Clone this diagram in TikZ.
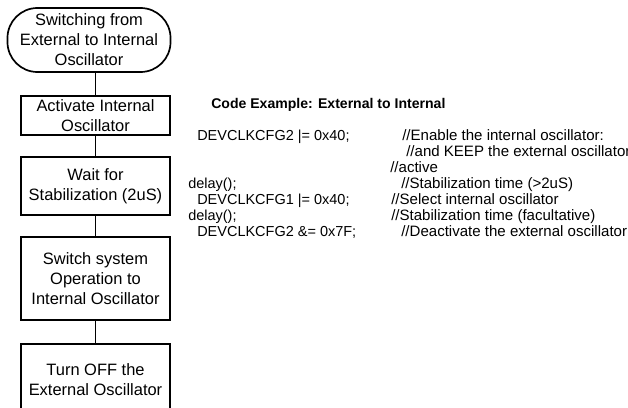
\documentclass[tikz,border=0pt]{standalone}
\usepackage{fontspec}
\setmainfont{Liberation Sans}
\usetikzlibrary{positioning}
\tikzset{
    stepbox/.style={
        draw,
        line width=1.2pt,
        minimum width=3.725cm,
        align=center,
        inner sep=0pt,
        font=\fontsize{11.7}{14.2}\selectfont
    },
    startbox/.style={
        stepbox,
        minimum width=4.075cm,
        rounded corners=0.75cm
    },
    codeline/.style={
        anchor=base west,
        inner sep=0pt,
        font=\fontsize{10.3}{12}\selectfont
    },
    remline/.style={
        codeline,
        font=\fontsize{10.7}{12}\selectfont
    }
}

\begin{document}
\begin{tikzpicture}[x=0.025cm,y=-0.025cm]
  \useasboundingbox (0,0) rectangle (628,407);
  \clip (0,0) rectangle (628,407);

  % flow chart
  \node[startbox, minimum height=1.6cm] at (89,40) (start) {Switching from\\External to Internal\\Oscillator};
  \node[stepbox, minimum height=0.975cm] at (95.5,115.5) (act) {Activate Internal\\Oscillator};
  \node[stepbox, minimum height=1.45cm] at (95.5,186) (waitst) {Wait for\\Stabilization (2uS)};
  \node[stepbox, minimum height=2.075cm] at (95.5,278.5) (switchop) {Switch system\\Operation to\\Internal Oscillator};
  \node[stepbox, minimum height=1.8cm, anchor=north] at (95.5,343) (turnoff) {Turn OFF the\\External Oscillator};
  \draw[line width=1.2pt] (start.south -| act.north) -- (act.north);
  \draw[line width=1.2pt] (act) -- (waitst);
  \draw[line width=1.2pt] (waitst) -- (switchop);
  \draw[line width=1.2pt] (switchop) -- (turnoff);

  % code example
  \node[codeline, font=\fontsize{10}{12}\bfseries] at (211,108) (title) {Code Example: External to Internal};
  \node[codeline] at (197,140.5) (c1) {DEVCLKCFG2 |= 0x40;};
  \node[codeline] at (188,188.5) (c4) {delay();};
  \node[codeline] at (197,204.5) (c5) {DEVCLKCFG1 |= 0x40;};
  \node[codeline] at (188,220.5) (c6) {delay();};
  \node[codeline] at (197,236.5) (c7) {DEVCLKCFG2 \&= 0x7F;};

  \node[remline] at (402,140.5) (m1) {//Enable the internal oscillator:};
  \node[remline] at (406,156.5) (m2) {//and KEEP the external oscillator};
  \node[remline] at (390,172.5) (m3) {//active};
  \node[remline] at (401,188.5) (m4) {//Stabilization time (>2uS)};
  \node[remline] at (391,204.5) (m5) {//Select internal oscillator};
  \node[remline] at (391,220.5) (m6) {//Stabilization time (facultative)};
  \node[remline] at (401,236.5) (m7) {//Deactivate the external oscillator};
\end{tikzpicture}
\end{document}
